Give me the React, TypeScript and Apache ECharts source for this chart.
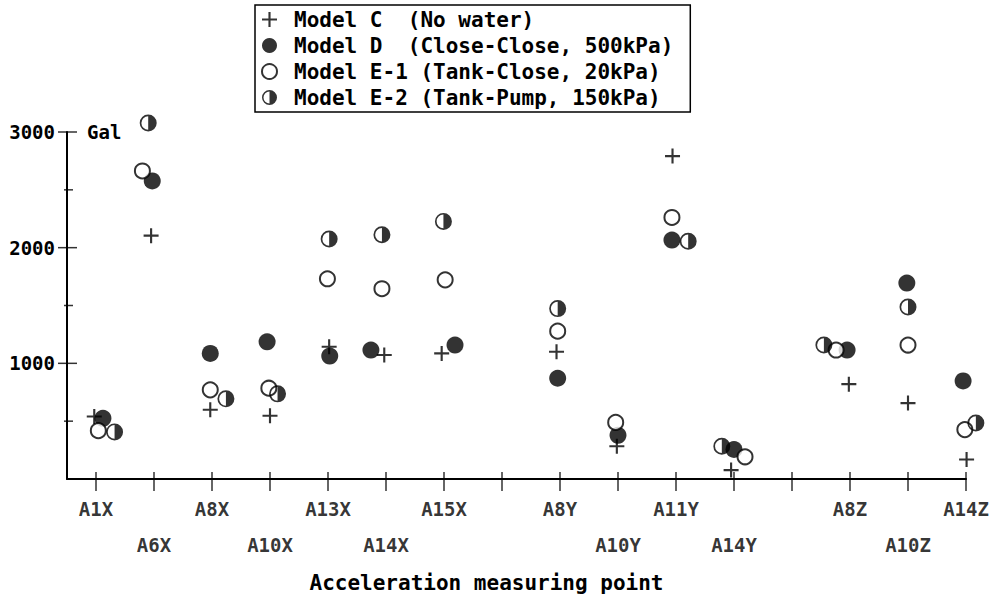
import { useEffect, useRef } from 'react';
import * as echarts from 'echarts';

// Axis positions (empty strings are unlabeled tick positions)
const categories = ['A1X', 'A6X', 'A8X', 'A10X', 'A13X', 'A14X', 'A15X', '', 'A8Y', 'A10Y', 'A11Y', 'A14Y', '', 'A8Z', 'A10Z', 'A14Z'];
const lowerRowLabels = ['A6X', 'A10X', 'A14X', 'A10Y', 'A14Y', 'A10Z'];

// Measuring points that carry data
const pointCategories = ['A1X', 'A6X', 'A8X', 'A10X', 'A13X', 'A14X', 'A15X', 'A8Y', 'A10Y', 'A11Y', 'A14Y', 'A8Z', 'A10Z', 'A14Z'];

// Peak acceleration (Gal)
const modelC = [540, 2104, 599, 547, 1143, 1072, 1086, 1100, 283, 2792, 77, 820, 656, 169];
const modelD = [525, 2577, 1086, 1186, 1063, 1115, 1158, 871, 378, 2066, 255, 1115, 1694, 848];
const modelE1 = [418, 2663, 771, 785, 1731, 1645, 1722, 1278, 489, 2261, 192, 1115, 1158, 427];
const modelE2: (number | null)[] = [407, 3078, 693, 736, 2075, 2112, 2227, 1473, null, 2055, 283, 1158, 1487, 484];

// Horizontal spread of markers around each measuring point (category units)
const jitterC = [-0.03, -0.05, -0.03, 0, 0.02, -0.03, -0.04, -0.06, -0.02, -0.06, -0.05, -0.02, 0, 0.01];
const jitterD = [0.12, -0.03, -0.03, -0.05, 0.03, -0.26, 0.19, -0.04, 0, -0.07, 0, -0.05, -0.02, -0.05];
const jitterE1 = [0.04, -0.2, -0.03, -0.02, -0.01, -0.07, 0.02, -0.04, -0.04, -0.07, 0.19, -0.24, 0, -0.02];
const jitterE2 = [0.32, -0.1, 0.24, 0.13, 0.02, -0.07, -0.01, -0.04, 0, 0.21, -0.21, -0.45, 0, 0.17];

const seriesNames = [
  'Model C  (No water)',
  'Model D  (Close-Close, 500kPa)',
  'Model E-1 (Tank-Close, 20kPa)',
  'Model E-2 (Tank-Pump, 150kPa)',
];

const yTickValues = [500, 1000, 1500, 2000, 2500, 3000];
const yMin = 0;
const yMax = 3000;
const xMin = -0.5;
const xMax = 15;

const FONT = '"DejaVu Sans Mono", monospace';
const PLUS = 'path://M6,0H8V6H14V8H8V14H6V8H0V6H6Z';
const HALF = 'path://M10,0A10,10,0,1,1,10,20A10,10,0,1,1,10,0ZM10,2A8,8,0,0,0,10,18Z';

function buildPoints(values: (number | null)[], jitter: number[]) {
  const out: number[][] = [];
  values.forEach((v, i) => {
    if (v == null) return;
    const x = categories.indexOf(pointCategories[i]) + jitter[i];
    out.push([x, v]);
  });
  return out;
}

export default function App() {
  const ref = useRef<HTMLDivElement>(null);
  useEffect(() => {
    document.body.style.margin = '0';
    const chart = echarts.init(ref.current!, null, { renderer: 'svg' });
    const labelStyle = { color: '#000', fontFamily: FONT, fontSize: 19, fontWeight: 'bold' as const };

    const option: any = {
      animation: false,
      backgroundColor: '#fff',
      grid: { left: 67, right: 27, top: 132, bottom: 118 },
      legend: {
        left: 255,
        top: 5,
        orient: 'vertical',
        padding: [4, 17, 4, 6],
        borderColor: '#000',
        borderWidth: 1.5,
        itemGap: 5,
        itemWidth: 15,
        itemHeight: 15,
        textStyle: { color: '#000', fontFamily: FONT, fontSize: 21, fontWeight: 'bold', lineHeight: 21, padding: [0, 0, 0, 12] },
        data: [
          { name: seriesNames[0], icon: PLUS },
          { name: seriesNames[1], icon: 'circle' },
          { name: seriesNames[2], icon: 'circle' },
          { name: seriesNames[3], icon: HALF },
        ],
      },
      xAxis: {
        type: 'value',
        min: xMin,
        max: xMax,
        axisLine: { show: true, onZero: false, lineStyle: { color: '#000', width: 2 } },
        axisTick: { show: false },
        axisLabel: { show: false },
        splitLine: { show: false },
        name: 'Acceleration measuring point',
        nameLocation: 'middle',
        nameGap: 93,
        nameTextStyle: { color: '#000', fontFamily: FONT, fontSize: 21, fontWeight: 'bold', padding: [0, 60, 0, 0] },
      },
      yAxis: {
        type: 'value',
        min: yMin,
        max: yMax,
        interval: 500,
        axisLine: { show: true, onZero: false, lineStyle: { color: '#000', width: 2 } },
        axisTick: { show: false },
        splitLine: { show: false },
        axisLabel: {
          ...labelStyle,
          margin: 12,
          formatter: (v: number) => (v > 0 && v % 1000 === 0 ? String(v) : ''),
        },
        name: 'Gal',
        nameLocation: 'end',
        nameGap: 0,
        nameTextStyle: { ...labelStyle, align: 'left', verticalAlign: 'middle', padding: [0, 0, 0, 20] },
      },
      series: [
        {
          type: 'scatter',
          name: 'xTicks',
          silent: true,
          clip: false,
          symbol: 'rect',
          symbolSize: [1.5, 19],
          symbolOffset: [0, 2.5],
          itemStyle: { color: '#000' },
          z: 5,
          label: { show: true, position: 'inside', ...labelStyle, formatter: (p: any) => p.name },
          data: categories.map((c, i) => ({
            value: [i, yMin],
            name: c,
            label: { show: c !== '', offset: [0, lowerRowLabels.includes(c) ? 63 : 27] },
          })),
        },
        {
          type: 'scatter',
          name: 'yTicks',
          silent: true,
          clip: false,
          symbol: 'rect',
          itemStyle: { color: '#000' },
          z: 5,
          data: yTickValues.map((v) => ({
            value: [xMin, v],
            symbolSize: v % 1000 === 0 ? [19, 1.5] : [9, 1.5],
            symbolOffset: v % 1000 === 0 ? [0.5, 0] : [1.5, 0],
          })),
        },
        {
          type: 'scatter',
          name: seriesNames[0],
          clip: false,
          symbol: PLUS,
          symbolSize: 15,
          itemStyle: { color: '#000' },
          data: buildPoints(modelC, jitterC),
        },
        {
          type: 'scatter',
          name: seriesNames[1],
          clip: false,
          symbol: 'circle',
          symbolSize: 17,
          itemStyle: { color: '#000' },
          data: buildPoints(modelD, jitterD),
        },
        {
          type: 'scatter',
          name: seriesNames[2],
          clip: false,
          symbol: 'circle',
          symbolSize: 15,
          itemStyle: { color: '#fff', borderColor: '#000', borderWidth: 2 },
          data: buildPoints(modelE1, jitterE1),
        },
        {
          type: 'scatter',
          name: seriesNames[3],
          clip: false,
          symbol: HALF,
          symbolSize: 17,
          itemStyle: { color: '#000' },
          data: buildPoints(modelE2, jitterE2),
        },
      ],
    };
    chart.setOption(option);
    return () => chart.dispose();
  }, []);
  return <div ref={ref} style={{ width: 993, height: 598, background: '#fff' }} />;
}
